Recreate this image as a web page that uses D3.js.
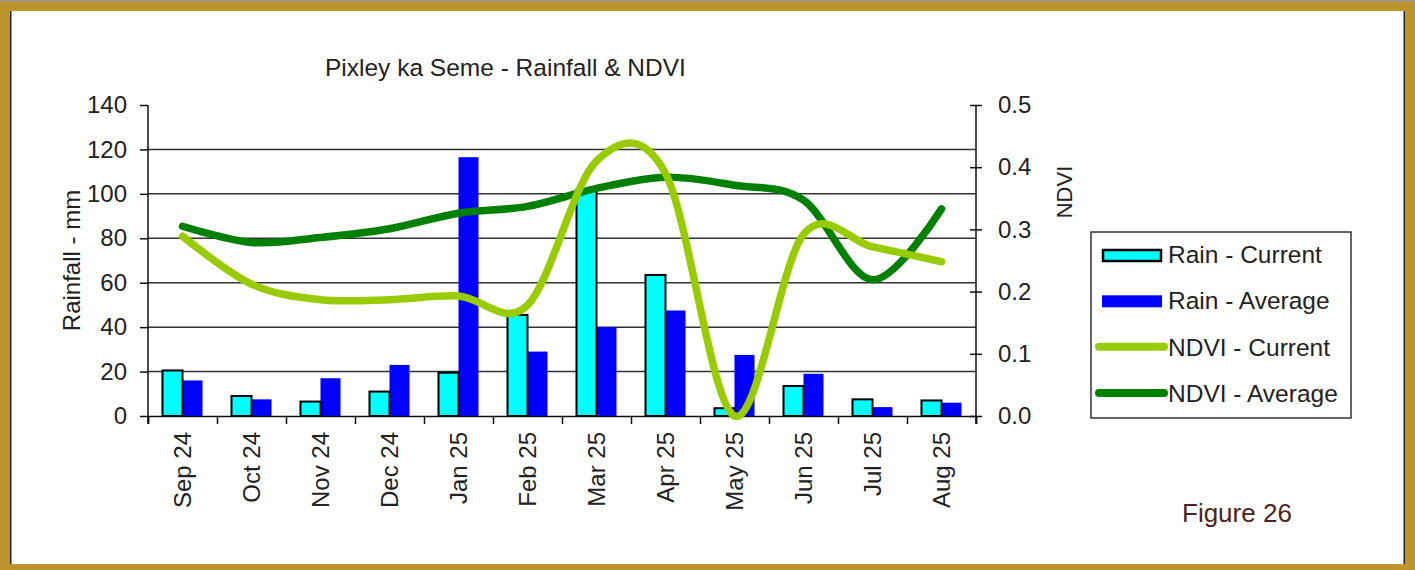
<!DOCTYPE html>
<html>
<head>
<meta charset="utf-8">
<script src="https://cdn.jsdelivr.net/npm/d3@7"></script>
<style>
  body { margin: 0; background: #fff; }
  text { font-family: "Liberation Sans", Arial, sans-serif; fill: #222; }
</style>
</head>
<body>
<script>
// chart data
const months = ['Sep 24', 'Oct 24', 'Nov 24', 'Dec 24', 'Jan 25', 'Feb 25',
                'Mar 25', 'Apr 25', 'May 25', 'Jun 25', 'Jul 25', 'Aug 25'];
const rainCurrent = [20.5, 9, 6.5, 11, 19.5, 45.5, 102, 63.5, 3.5, 13.5, 7.5, 7];
const rainAverage = [16, 7.5, 17, 23, 116.5, 29, 40, 47.5, 27.5, 19, 4, 6];
const ndviCurrent = [0.289, 0.212, 0.187, 0.187, 0.193, 0.178, 0.41, 0.39, 0.0, 0.292, 0.272, 0.248];
const ndviAverage = [0.305, 0.279, 0.287, 0.301, 0.326, 0.337, 0.366, 0.384, 0.371, 0.347, 0.219, 0.333];
const rainTicks = [0, 20, 40, 60, 80, 100, 120, 140];
const ndviTicks = [0, 0.1, 0.2, 0.3, 0.4, 0.5];
const legendItems = ['Rain - Current', 'Rain - Average', 'NDVI - Current', 'NDVI - Average'];

const width = 1415;
const height = 570;
const gold = '#bb952b';

const svg = d3.select('body').append('svg')
    .attr('width', width)
    .attr('height', height);

// frame
svg.append('rect').attr('width', width).attr('height', height).attr('fill', gold);
svg.append('rect').attr('x', 0).attr('y', 0).attr('width', width).attr('height', 1.5).attr('fill', '#999');
svg.append('rect').attr('x', 10).attr('y', 11).attr('width', 1395).attr('height', 553).attr('fill', '#fff');
svg.append('rect').attr('x', 10).attr('y', 11).attr('width', 1.5).attr('height', 553).attr('fill', '#222');
svg.append('rect').attr('x', 1403.5).attr('y', 11).attr('width', 1.5).attr('height', 553).attr('fill', '#222');

// scales
const plotLeft = 148, plotRight = 976, plotTop = 105, plotBottom = 416;
const x = d3.scaleBand().domain(months).range([plotLeft, plotRight]);
const xEdge = d3.scaleLinear().domain([0, months.length]).range([plotLeft, plotRight]);
const xs = d3.scaleBand().domain(['cur', 'avg'])
    .range([x.bandwidth() * 0.21, x.bandwidth() * 0.79]);
const yL = d3.scaleLinear().domain([0, 140]).range([plotBottom, plotTop]);
const yR = d3.scaleLinear().domain([0, 0.5]).range([plotBottom, plotTop]);

// gridlines
svg.append('g')
  .selectAll('line')
  .data(rainTicks.filter(d => d > 0 && d < 140))
  .join('line')
    .attr('x1', plotLeft).attr('x2', plotRight)
    .attr('y1', d => yL(d)).attr('y2', d => yL(d))
    .attr('stroke', '#333').attr('stroke-width', 1.5);

// bars
const groups = svg.append('g')
  .selectAll('g')
  .data(months.map((m, i) => ({ m, cur: rainCurrent[i], avg: rainAverage[i] })))
  .join('g')
    .attr('transform', d => `translate(${x(d.m)},0)`);

groups.append('rect')
    .attr('x', xs('avg'))
    .attr('y', d => yL(d.avg))
    .attr('width', xs.bandwidth())
    .attr('height', d => plotBottom - yL(d.avg))
    .attr('fill', '#0000ff');

groups.append('rect')
    .attr('x', xs('cur'))
    .attr('y', d => yL(d.cur))
    .attr('width', xs.bandwidth())
    .attr('height', d => plotBottom - yL(d.cur))
    .attr('fill', '#00ffff')
    .attr('stroke', '#000')
    .attr('stroke-width', 2);

// axes
const leftAxis = svg.append('g')
    .attr('transform', `translate(${plotLeft},0)`)
    .call(d3.axisLeft(yL).tickValues(rainTicks).tickSize(8).tickPadding(13));

const rightAxis = svg.append('g')
    .attr('transform', `translate(${plotRight},0)`)
    .call(d3.axisRight(yR).tickValues(ndviTicks).tickSize(6).tickPadding(16)
      .tickFormat(d3.format('.1f')));
rightAxis.selectAll('.tick line').attr('x1', -6);

const bottomAxis = svg.append('g')
    .attr('transform', `translate(0,${plotBottom})`)
    .call(d3.axisBottom(xEdge).tickValues(d3.range(months.length + 1)).tickSize(8).tickFormat(''));

[leftAxis, rightAxis, bottomAxis].forEach(g => {
  g.select('.domain').attr('stroke', '#111').attr('stroke-width', 1.5);
  g.selectAll('.tick line').attr('stroke', '#111').attr('stroke-width', 1.5);
  g.selectAll('.tick text')
    .style('font-family', '"Liberation Sans", Arial, sans-serif')
    .style('font-size', '24px')
    .attr('fill', '#222');
});
leftAxis.select('.domain').attr('d', `M0,${plotTop}V${plotBottom + 8}`);
rightAxis.select('.domain').attr('d', `M0,${plotTop}V${plotBottom + 8}`);

// month labels
svg.append('g')
  .selectAll('text')
  .data(months)
  .join('text')
    .attr('transform', d => `translate(${x(d) + x.bandwidth() / 2 + 8},${plotBottom + 16}) rotate(-90)`)
    .attr('text-anchor', 'end')
    .style('font-size', '24px')
    .text(d => d);

// NDVI lines
const line = d3.line()
    .x((d, i) => x(months[i]) + x.bandwidth() / 2)
    .y(d => yR(d))
    .curve(d3.curveCardinal.tension(0));

svg.append('path')
    .attr('d', line(ndviAverage))
    .attr('fill', 'none')
    .attr('stroke', '#008000')
    .attr('stroke-width', 7.5)
    .attr('stroke-linecap', 'round');

svg.append('path')
    .attr('d', line(ndviCurrent))
    .attr('fill', 'none')
    .attr('stroke', '#99cc00')
    .attr('stroke-width', 7.5)
    .attr('stroke-linecap', 'round');

// titles
svg.append('text')
    .attr('x', 325).attr('y', 76)
    .style('font-size', '24.5px')
    .text('Pixley ka Seme - Rainfall & NDVI');

svg.append('text')
    .attr('transform', `translate(80,${(plotTop + plotBottom) / 2}) rotate(-90)`)
    .attr('text-anchor', 'middle')
    .style('font-size', '24px')
    .text('Rainfall - mm');

svg.append('text')
    .attr('transform', `translate(1072,192) rotate(-90)`)
    .attr('text-anchor', 'middle')
    .style('font-size', '22px')
    .text('NDVI');

// legend
const legend = svg.append('g');
legend.append('rect')
    .attr('x', 1091).attr('y', 232)
    .attr('width', 260).attr('height', 186)
    .attr('fill', '#fff')
    .attr('stroke', '#333')
    .attr('stroke-width', 1.5);

const legendY = d3.scalePoint().domain(legendItems).range([263, 402]);

legend.append('rect')
    .attr('x', 1103).attr('y', legendY(legendItems[0]) - 13)
    .attr('width', 58).attr('height', 11)
    .attr('fill', '#00ffff').attr('stroke', '#000').attr('stroke-width', 2.5);
legend.append('rect')
    .attr('x', 1102).attr('y', legendY(legendItems[1]) - 14)
    .attr('width', 60).attr('height', 12)
    .attr('fill', '#0000ff');
legend.append('line')
    .attr('x1', 1099).attr('x2', 1164)
    .attr('y1', legendY(legendItems[2]) - 9).attr('y2', legendY(legendItems[2]) - 9)
    .attr('stroke', '#99cc00').attr('stroke-width', 8).attr('stroke-linecap', 'round');
legend.append('line')
    .attr('x1', 1099).attr('x2', 1164)
    .attr('y1', legendY(legendItems[3]) - 9).attr('y2', legendY(legendItems[3]) - 9)
    .attr('stroke', '#008000').attr('stroke-width', 8).attr('stroke-linecap', 'round');

legend.selectAll('.lbl')
  .data(legendItems)
  .join('text')
    .attr('class', 'lbl')
    .attr('x', 1168)
    .attr('y', d => legendY(d))
    .style('font-size', '24.5px')
    .text(d => d);

svg.append('text')
    .attr('x', 1182).attr('y', 522)
    .style('font-size', '26px')
    .style('fill', '#4a2420')
    .text('Figure 26');
</script>
</body>
</html>
